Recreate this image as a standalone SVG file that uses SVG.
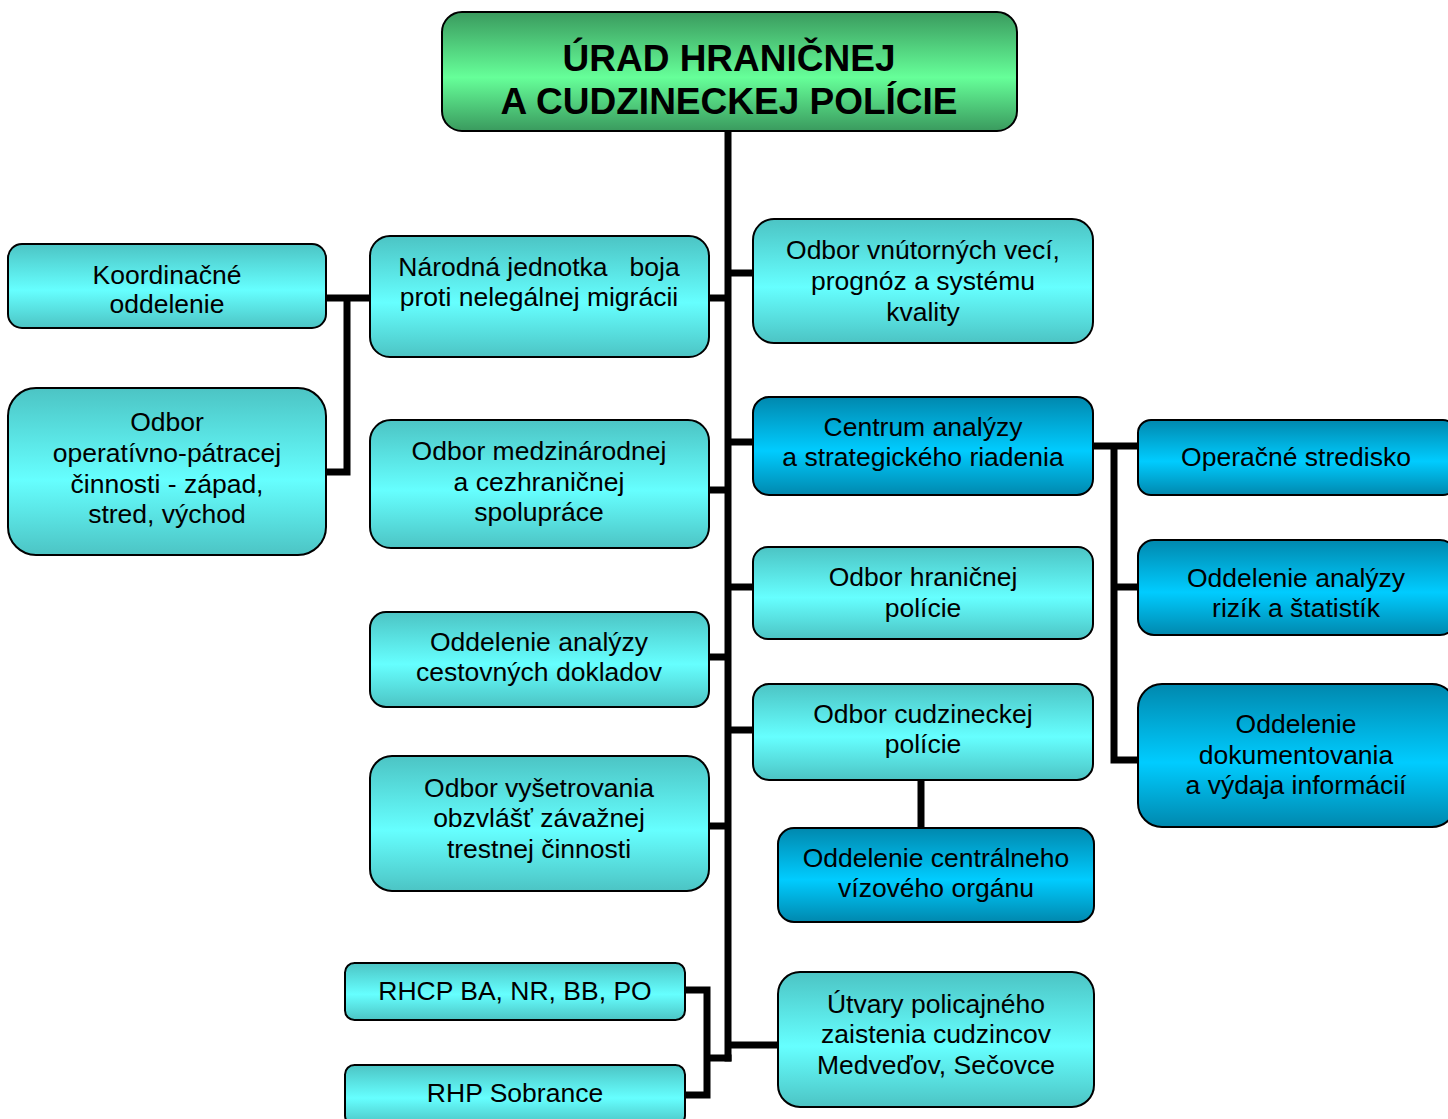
<svg xmlns="http://www.w3.org/2000/svg" width="1448" height="1119" viewBox="0 0 1448 1119">
<defs>
<linearGradient id="gc" x1="0" y1="0" x2="0" y2="1">
<stop offset="0" stop-color="#4cc4c4"/><stop offset="0.55" stop-color="#66ffff"/><stop offset="1" stop-color="#4cc4c4"/>
</linearGradient>
<linearGradient id="gb" x1="0" y1="0" x2="0" y2="1">
<stop offset="0" stop-color="#0088ae"/><stop offset="0.55" stop-color="#00ccff"/><stop offset="1" stop-color="#0088ae"/>
</linearGradient>
<linearGradient id="gg" x1="0" y1="0" x2="0" y2="1">
<stop offset="0" stop-color="#3a9a5e"/><stop offset="0.55" stop-color="#66ff99"/><stop offset="1" stop-color="#3a9a5e"/>
</linearGradient>
</defs>
<style>
.c{fill:url(#gc);stroke:#000;stroke-width:2}
.b{fill:url(#gb);stroke:#000;stroke-width:2}
.g{fill:url(#gg);stroke:#000;stroke-width:2}
text{font-family:"Liberation Sans",Arial,sans-serif;font-size:26.5px;fill:#000;text-anchor:middle;white-space:pre}
.t{font-size:37px;font-weight:bold}
.ln{fill:none;stroke:#000;stroke-width:7;stroke-linejoin:miter;stroke-linecap:butt}
</style>
<rect width="1448" height="1119" fill="#fff"/>
<g id="connectors">
<path class="ln" d="M728 131V1061.5"/>
<path class="ln" d="M709 298H728M728 273H753M728 442H753M709 490H728M728 587H753M709 657H728M728 730H753M709 826H728M728 1045H778"/>
<path class="ln" d="M326 298H370M326 472H347V298"/>
<path class="ln" d="M685 990H707V1095H685M707 1058H731.5"/>
<path class="ln" d="M921 780V828"/>
<path class="ln" d="M1093 446H1138M1114 446V760H1138M1114 587H1138"/>
</g>
<g id="n-top"><rect class="g" x="442" y="12" width="575" height="119" rx="20"/>
<text class="t" x="729" y="71">ÚRAD HRANIČNEJ</text><text class="t" x="729" y="114">A CUDZINECKEJ POLÍCIE</text></g>
<g id="n-koord"><rect class="c" x="8" y="244" width="318" height="84" rx="14"/>
<text x="167" y="284">Koordinačné</text><text x="167" y="313">oddelenie</text></g>
<g id="n-operat"><rect class="c" x="8" y="388" width="318" height="167" rx="28"/>
<text x="167" y="431">Odbor</text><text x="167" y="462">operatívno-pátracej</text><text x="167" y="493">činnosti - západ,</text><text x="167" y="523">stred, východ</text></g>
<g id="n-narodna"><rect class="c" x="370" y="236" width="339" height="121" rx="20"/>
<text x="539" y="276">Národná jednotka   boja</text><text x="539" y="306">proti nelegálnej migrácii</text></g>
<g id="n-medzin"><rect class="c" x="370" y="420" width="339" height="128" rx="21"/>
<text x="539" y="460">Odbor medzinárodnej</text><text x="539" y="491">a cezhraničnej</text><text x="539" y="521">spolupráce</text></g>
<g id="n-cestov"><rect class="c" x="370" y="612" width="339" height="95" rx="16"/>
<text x="539" y="651">Oddelenie analýzy</text><text x="539" y="681">cestovných dokladov</text></g>
<g id="n-vysetr"><rect class="c" x="370" y="756" width="339" height="135" rx="22"/>
<text x="539" y="797">Odbor vyšetrovania</text><text x="539" y="827">obzvlášť závažnej</text><text x="539" y="858">trestnej činnosti</text></g>
<g id="n-rhcp"><rect class="c" x="345" y="963" width="340" height="57" rx="9.5"/>
<text x="515" y="1000">RHCP BA, NR, BB, PO</text></g>
<g id="n-rhp"><rect class="c" x="345" y="1065" width="340" height="60" rx="9.5"/>
<text x="515" y="1102">RHP Sobrance</text></g>
<g id="n-vnut"><rect class="c" x="753" y="219" width="340" height="124" rx="21"/>
<text x="923" y="259">Odbor vnútorných vecí,</text><text x="923" y="290">prognóz a systému</text><text x="923" y="321">kvality</text></g>
<g id="n-centrum"><rect class="b" x="753" y="397" width="340" height="98" rx="16"/>
<text x="923" y="436">Centrum analýzy</text><text x="923" y="466">a strategického riadenia</text></g>
<g id="n-hranic"><rect class="c" x="753" y="547" width="340" height="92" rx="15"/>
<text x="923" y="586">Odbor hraničnej</text><text x="923" y="617">polície</text></g>
<g id="n-cudzin"><rect class="c" x="753" y="684" width="340" height="96" rx="16"/>
<text x="923" y="723">Odbor cudzineckej</text><text x="923" y="753">polície</text></g>
<g id="n-vizov"><rect class="b" x="778" y="828" width="316" height="94" rx="16"/>
<text x="936" y="867">Oddelenie centrálneho</text><text x="936" y="897">vízového orgánu</text></g>
<g id="n-utvary"><rect class="c" x="778" y="972" width="316" height="135" rx="22"/>
<text x="936" y="1013">Útvary policajného</text><text x="936" y="1043">zaistenia cudzincov</text><text x="936" y="1074">Medveďov, Sečovce</text></g>
<g id="n-operac"><rect class="b" x="1138" y="420" width="318" height="75" rx="13"/>
<text x="1296" y="466">Operačné stredisko</text></g>
<g id="n-riziko"><rect class="b" x="1138" y="540" width="318" height="95" rx="16"/>
<text x="1296" y="587">Oddelenie analýzy</text><text x="1296" y="617">rizík a štatistík</text></g>
<g id="n-dokum"><rect class="b" x="1138" y="684" width="318" height="143" rx="24"/>
<text x="1296" y="733">Oddelenie</text><text x="1296" y="764">dokumentovania</text><text x="1296" y="794">a výdaja informácií</text></g>
</svg>
